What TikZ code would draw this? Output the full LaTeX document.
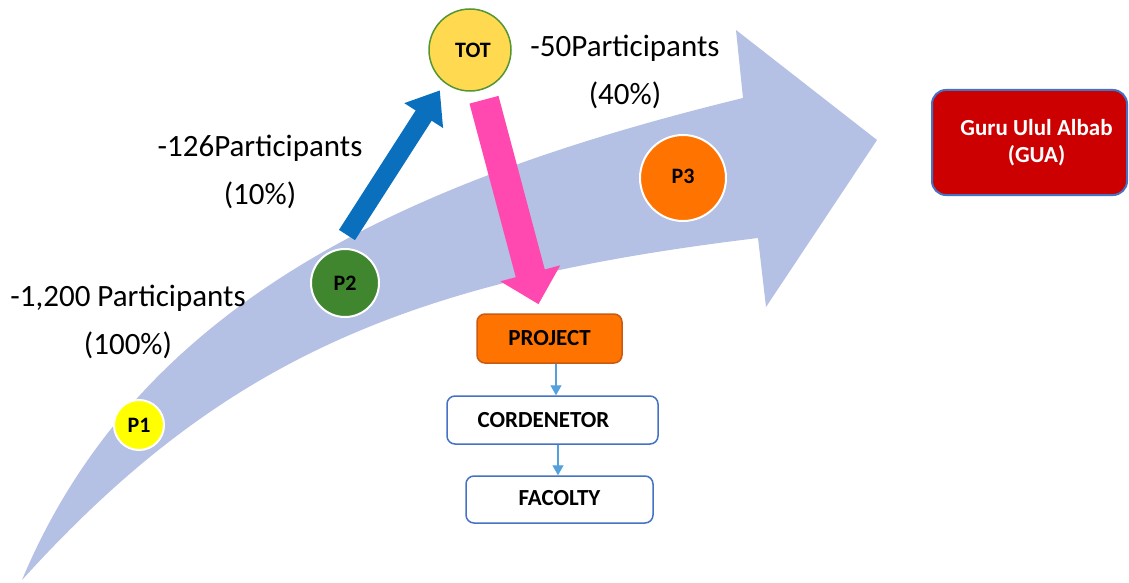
\documentclass[tikz,border=0pt]{standalone}
\usepackage{fontspec}
\setmainfont{Carlito}
\usetikzlibrary{arrows.meta}
\definecolor{band}{RGB}{180,192,228}
\definecolor{blueA}{RGB}{10,112,190}
\definecolor{pinkA}{RGB}{255,72,176}
\definecolor{totfill}{RGB}{255,217,80}
\definecolor{totline}{RGB}{84,150,50}
\definecolor{p1fill}{RGB}{255,255,0}
\definecolor{p2fill}{RGB}{64,134,46}
\definecolor{orangeF}{RGB}{255,115,0}
\definecolor{orangeL}{RGB}{200,90,20}
\definecolor{guared}{RGB}{204,0,0}
\definecolor{boxblue}{RGB}{68,114,196}
\definecolor{smallblue}{RGB}{84,160,220}
\begin{document}
\begin{tikzpicture}[x=1pt,y=-1pt,
  pcirc/.style={circle, draw=white, line width=2pt, inner sep=0pt,
    font=\bfseries\fontsize{22}{22}\selectfont},
  lbl/.style={font=\fontsize{31}{48}\selectfont, align=center, inner sep=0pt},
  flowbox/.style={rounded corners=8pt, draw=boxblue, line width=1.5pt, fill=white,
    font=\bfseries\fontsize{23}{23}\selectfont, inner sep=0pt},
  smallarrow/.style={draw=smallblue, line width=1.2pt, -{Triangle[length=10pt,width=11pt]}}
]
\useasboundingbox (0,0) rectangle (1129,583);
% big curved arrow
\fill[band] (22,580) .. controls (137.5,304) and (403,181) .. (743,98)
  -- (736,30) -- (877,140) -- (766,307) -- (758,238)
  .. controls (410,280) and (223,358) .. (22,580) -- cycle;

% circles
\node[pcirc, fill=p1fill, minimum size=50pt] (P1) at (139,425) {\raisebox{-8pt}{P1}};
\node[pcirc, fill=p2fill, minimum size=68pt] (P2) at (345,283) {P2};
\node[pcirc, fill=orangeF, minimum size=86pt] (P3) at (683,178) {\raisebox{4pt}{P3}};
\node[circle, draw=totline, line width=1.5pt, fill=totfill, minimum size=82pt, inner sep=0pt,
  font=\bfseries\fontsize{22}{22}\selectfont] (TOT) at (470,50) {\raisebox{-5pt}{\hspace*{6pt}TOT}};

% boxes
\node[rounded corners=8pt, draw=orangeL, line width=1.5pt, fill=orangeF,
  minimum width=145pt, minimum height=49pt, inner sep=0pt,
  font=\bfseries\fontsize{23}{23}\selectfont] (proj) at (549.5,338.5) {PROJECT};
\node[flowbox, minimum width=211pt, minimum height=48pt] (cord) at (552.5,420) {\hspace*{-18pt}CORDENETOR};
\node[flowbox, minimum width=187pt, minimum height=47pt] (fac) at (559.5,499.5) {\raisebox{3pt}{FACOLTY}};
\node[rounded corners=14pt, draw=boxblue, line width=2pt, fill=guared, text=white,
  minimum width=195pt, minimum height=105pt, align=center, inner sep=0pt,
  font=\bfseries\fontsize{23}{27}\selectfont] (gua) at (1029.5,142.5) {\hspace*{14pt}Guru Ulul Albab\\\hspace*{14pt}(GUA)};

% labels
\node[lbl] (l1) at (128,322) {-1,200 Participants\\(100\%)};
\node[lbl] (l2) at (260,172) {-126Participants\\(10\%)};
\node[lbl] (l3) at (625,72) {-50Participants\\(40\%)};

% thick arrows
\draw[blueA, line width=19pt, -{Triangle[length=30pt,width=44pt]}]
  ([shift={(2pt,13pt)}]P2.north) -- ([shift={(-5pt,-7pt)}]TOT.233);
\draw[pinkA, line width=30pt, -{Triangle[length=32pt,width=60pt]}]
  ([shift={(14pt,-8pt)}]TOT.south) -- ([shift={(-11pt,9pt)}]proj.north);

% small arrows
\draw[smallarrow] ([xshift=6.5pt]proj.south) -- ([xshift=3.5pt]cord.north);
\draw[smallarrow] ([xshift=5.5pt]cord.south) -- ([xshift=-1.5pt]fac.north);
\end{tikzpicture}
\end{document}
